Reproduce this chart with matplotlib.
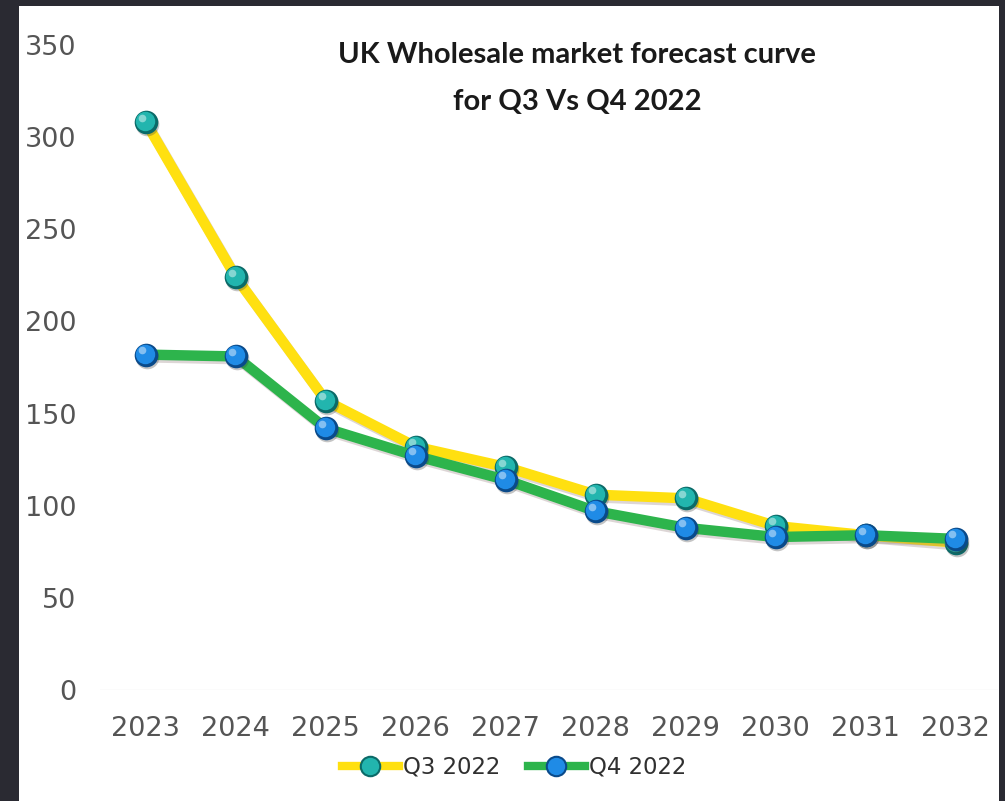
import matplotlib

matplotlib.use("Agg")
import matplotlib.pyplot as plt
import matplotlib.patheffects as pe
from matplotlib.lines import Line2D
from matplotlib.patches import Rectangle
from matplotlib.transforms import offset_copy

# Forecast curves (£/MWh) by delivery year
years = ["2023", "2024", "2025", "2026", "2027", "2028", "2029", "2030", "2031", "2032"]
q3_2022 = [308, 224, 157, 132, 121, 106, 104, 89, 84, 80]
q4_2022 = [182, 181, 142, 127, 114, 97, 88, 83, 84, 82]
y_ticks = [0, 50, 100, 150, 200, 250, 300, 350]

series = [
    # label, values, line colour, marker face, marker edge
    ("Q3 2022", q3_2022, "#FFE010", "#22B5AE", "#0B6A68"),
    ("Q4 2022", q4_2022, "#2DB44C", "#1F8BE6", "#0A4A8A"),
]

fig = plt.figure(figsize=(10.05, 8.01), dpi=100, facecolor="#2A2A32")
# white panel inside the dark frame
fig.patches.append(
    Rectangle((19 / 1005, 0), 980 / 1005, 795 / 801, transform=fig.transFigure,
              facecolor="white", edgecolor="none", zorder=-10)
)

ax = fig.add_axes([100 / 1005, 111 / 801, 898 / 1005, 645 / 801])
ax.set_facecolor("none")
ax.set_zorder(1)
x = list(range(len(years)))

for k, (label, vals, lc, fc, ec) in enumerate(series):
    z = 3 + 3 * k
    ax.plot(x, vals, color=lc, lw=7.5, solid_capstyle="butt", zorder=z,
            path_effects=[pe.SimpleLineShadow(offset=(1.5, -2), shadow_color="#907878", alpha=0.3),
                          pe.Normal()])
    # sphere-like markers: shadow, dark rim, body, highlight
    shadow = offset_copy(ax.transData, fig=fig, x=1.5, y=-2, units="dots")
    body = offset_copy(ax.transData, fig=fig, x=-1, y=1, units="dots")
    hilite = offset_copy(ax.transData, fig=fig, x=-4, y=4.5, units="dots")
    ax.plot(x, vals, "o", ms=17, color="#404040", alpha=0.3, mew=0, transform=shadow, zorder=z + 1)
    ax.plot(x, vals, "o", ms=17, color=ec, mew=0, zorder=z + 1)
    ax.plot(x, vals, "o", ms=14, color=fc, mew=0, transform=body, zorder=z + 2)
    ax.plot(x, vals, "o", ms=5.5, color="white", alpha=0.45, mew=0, transform=hilite, zorder=z + 2)

ax.set_xlim(-0.51, 9.47)
ax.set_ylim(0, 350)
ax.set_xticks(x)
ax.set_xticklabels(years)
ax.set_yticks(y_ticks)
ax.tick_params(axis="both", length=0, labelsize=19.5, labelcolor="#555555")
ax.tick_params(axis="y", pad=17)
ax.tick_params(axis="x", pad=19)
for s in ax.spines.values():
    s.set_visible(False)
ax.axhline(0, color="#EBEBEB", lw=1, zorder=1)

fig.text(577 / 1005, 1 - 55 / 801, "UK Wholesale market forecast curve", ha="center", va="center",
         fontsize=21, fontweight="bold", family="Lato", color="#1A1A1A")
fig.text(577 / 1005, 1 - 102 / 801, "for Q3 Vs Q4 2022", ha="center", va="center",
         fontsize=21, fontweight="bold", family="Lato", color="#1A1A1A")

handles = [
    Line2D([], [], color=lc, lw=6, marker="o", ms=14, markerfacecolor=fc, markeredgecolor=ec, mew=1.5)
    for _, _, lc, fc, ec in series
]
leg = fig.legend(handles, [s[0] for s in series], loc="center", bbox_to_anchor=(514 / 1005, 1 - 767 / 801),
                 ncol=2, frameon=False, fontsize=16.4, handlelength=2.5, handletextpad=0.2,
                 columnspacing=1.2, borderpad=0)
for t in leg.get_texts():
    t.set_color("#303030")

fig.savefig("out.png", dpi=100, facecolor=fig.get_facecolor())
